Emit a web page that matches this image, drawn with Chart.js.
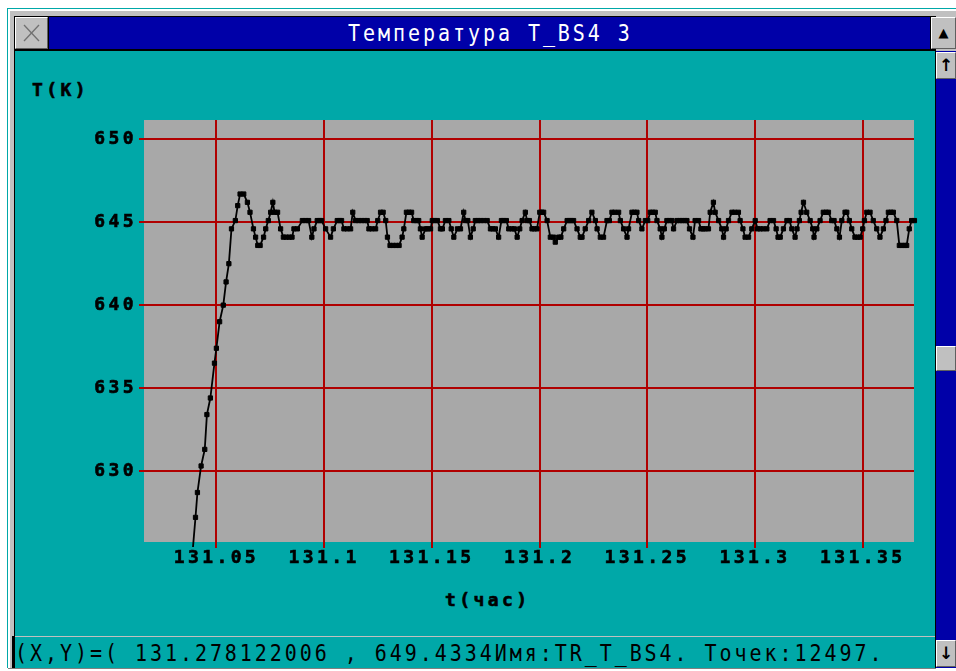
<!DOCTYPE html>
<html>
<head>
<meta charset="utf-8">
<script src="https://cdn.jsdelivr.net/npm/chart.js@4.4.1/dist/chart.umd.min.js"></script>
<style>
html,body{margin:0;padding:0;background:#fff;width:956px;height:671px;overflow:hidden;position:relative;}
.abs{position:absolute;}
.sysfont{font-family:"DejaVu Sans Mono",monospace;font-size:20px;letter-spacing:2.95px;white-space:pre;transform:scaleY(1.16);transform-origin:0 50%;line-height:24px;}
.boldfont{font-family:"DejaVu Sans Mono",monospace;font-weight:bold;font-size:18px;letter-spacing:3.4px;white-space:pre;line-height:20px;color:#000;-webkit-text-stroke:0.6px #000;}
.btn{background:#C0C0C0;border-top:1px solid #fff;border-left:1px solid #fff;border-right:1px solid #606060;border-bottom:1px solid #606060;box-sizing:border-box;text-align:center;font-family:"DejaVu Sans",sans-serif;color:#000;}
</style>
</head>
<body>
<!-- window chrome -->
<div class="abs" style="left:7px;top:8px;width:1px;height:663px;background:#00A8A8"></div>
<div class="abs" style="left:7px;top:8px;width:949px;height:1px;background:#00A8A8"></div>
<div class="abs" style="left:8px;top:9px;width:948px;height:662px;background:#C0C0C0"></div>
<div class="abs" style="left:8px;top:9px;width:948px;height:2px;background:#fff"></div>
<div class="abs" style="left:8px;top:9px;width:2px;height:662px;background:#fff"></div>
<div class="abs" style="left:14px;top:16px;width:922px;height:653px;background:#000"></div>
<!-- title bar -->
<div class="abs" style="left:49px;top:17px;width:881px;height:32px;background:#0000A8"></div>
<div class="abs sysfont" style="left:348px;top:21px;color:#fff">Температура T_BS4 3</div>
<div class="abs btn" style="left:15px;top:17px;width:33px;height:32px;">
  <svg width="31" height="30" style="position:absolute;left:0;top:0"><line x1="8" y1="7" x2="23" y2="23" stroke="#707070" stroke-width="1.3"/><line x1="23" y1="7" x2="8" y2="23" stroke="#707070" stroke-width="1.3"/></svg>
</div>
<div class="abs btn" style="left:931px;top:17px;width:25px;height:32px;font-size:13px;line-height:30px;">▲</div>
<!-- client area -->
<div class="abs" style="left:15px;top:51px;width:920px;height:617px;background:#00A8A8"></div>
<!-- scrollbar -->
<div class="abs" style="left:936px;top:51px;width:20px;height:617px;background:#0000A8"></div>
<div class="abs btn" style="left:936px;top:52px;width:20px;height:27px;font-size:17px;font-weight:bold;line-height:25px;">↑</div>
<div class="abs btn" style="left:936px;top:346px;width:20px;height:25px;"></div>
<div class="abs btn" style="left:936px;top:640px;width:20px;height:27px;font-size:17px;font-weight:bold;line-height:25px;">↓</div>
<!-- status line -->
<div class="abs" style="left:15px;top:636px;width:920px;height:1px;background:#C0C0C0"></div>
<div class="abs" style="left:12px;top:636px;width:2px;height:33px;background:#000"></div>
<div class="abs sysfont" style="left:15px;top:641px;color:#000">(X,Y)=( 131.278122006 , 649.4334Имя:TR_T_BS4. Точек:12497.</div>
<div class="abs" style="left:0;top:668px;width:956px;height:3px;background:#fff"></div>
<div class="abs" style="left:8px;top:668px;width:928px;height:1px;background:#808080"></div>
<!-- axis titles -->
<div class="abs boldfont" style="left:32px;top:80px">T(K)</div>
<div class="abs boldfont" style="left:445px;top:590px">t(час)</div>

<canvas id="c" width="956" height="671" style="position:absolute;left:0;top:0"></canvas>

<script>
// ---- data (time in hours, temperature in K) ----
const RISE_TIME = [131.0390,131.0403,131.0412,131.0429,131.0446,131.0456,131.0472,131.0491,131.0500,131.0515,131.0532,131.0545,131.0558,131.0570,131.0588,131.0599,131.0610,131.0627,131.0644,131.0656,131.0672,131.0682,131.0692,131.0703];
const RISE_TEMP = [625.2,627.2,628.7,630.3,631.3,633.4,634.4,636.5,637.4,639.0,640.0,641.4,642.5,644.6,645.1,646.0,646.7,646.7,646.2,645.6,644.6,644.1,643.6,643.6];

const SEG_A_TIME = [131.0719,131.0729,131.0741,131.0752,131.0762,131.0770,131.0784,131.0798,131.0811,131.0824,131.0838,131.0851,131.0860,131.0876,131.0899,131.0914,131.0928,131.0943,131.0953,131.0968,131.0979,131.0988,131.1007,131.1030,131.1043,131.1061,131.1072,131.1081,131.1092,131.1107,131.1123,131.1133,131.1146,131.1160,131.1174,131.1188,131.1200,131.1208,131.1222,131.1239,131.1249,131.1262,131.1274,131.1286,131.1294,131.1306,131.1320,131.1334,131.1348,131.1362,131.1370,131.1382,131.1394,131.1406,131.1416,131.1429,131.1439,131.1447,131.1455,131.1471,131.1480,131.1494];
const SEG_A_TEMP = [644.1,644.6,645.1,645.6,646.2,645.6,645.6,644.6,644.1,644.1,644.1,644.1,644.6,644.6,645.1,645.1,645.1,644.1,644.6,645.1,645.1,645.1,644.6,644.1,644.6,645.1,645.1,645.1,644.6,644.6,644.6,645.6,645.1,645.1,645.1,645.1,645.1,644.6,644.6,644.6,645.1,645.6,645.6,645.1,644.1,643.6,643.6,643.6,643.6,644.1,644.6,645.6,645.6,645.6,645.1,645.1,645.1,644.6,644.1,644.6,644.6,644.6];

const SEG_B_TIME = [131.1502,131.1512,131.1526,131.1540,131.1549,131.1563,131.1579,131.1590,131.1602,131.1619,131.1633,131.1648,131.1656,131.1667,131.1679,131.1692,131.1702,131.1714,131.1726,131.1741,131.1757,131.1772,131.1783,131.1795,131.1810,131.1823,131.1832,131.1846,131.1857,131.1872,131.1883,131.1896,131.1908,131.1919,131.1934,131.1942,131.1953,131.1965,131.1976,131.1988];
const SEG_B_TEMP = [645.1,645.1,645.1,644.6,644.6,645.1,645.1,644.6,644.1,644.6,644.6,645.6,645.1,645.1,644.1,644.6,645.1,645.1,645.1,645.1,645.1,644.6,644.6,644.6,644.1,645.1,645.1,645.1,644.6,644.6,644.6,644.1,644.6,645.1,645.6,645.1,645.1,644.6,644.6,644.6];

const SEG_C_TIME = [131.2001,131.2011,131.2019,131.2035,131.2050,131.2065,131.2073,131.2089,131.2099,131.2112,131.2128,131.2138,131.2147,131.2158,131.2174,131.2189,131.2197,131.2212,131.2228,131.2243,131.2259,131.2267,131.2282,131.2297,131.2313,131.2324,131.2336,131.2349,131.2367,131.2375,131.2390,131.2406,131.2413,131.2429,131.2440,131.2452,131.2460,131.2475,131.2491,131.2502];
const SEG_C_TEMP = [645.6,645.6,645.6,645.1,644.1,644.1,643.8,644.1,644.1,644.6,645.1,645.1,645.1,645.1,644.6,644.1,644.1,644.6,645.1,645.6,645.1,644.6,644.1,644.1,645.1,645.1,645.6,645.6,645.6,645.1,644.6,644.1,644.6,645.6,645.6,645.6,645.1,644.6,645.1,645.1];

const SEG_D_TIME = [131.2514,131.2525,131.2537,131.2545,131.2560,131.2568,131.2579,131.2591,131.2602,131.2614,131.2622,131.2638,131.2651,131.2662,131.2674,131.2684,131.2696,131.2712,131.2722,131.2738,131.2749,131.2760,131.2769,131.2784,131.2792,131.2807,131.2815,131.2831,131.2846,131.2854,131.2866,131.2877,131.2893,131.2906,131.2923,131.2931,131.2944,131.2954,131.2970,131.2985];
const SEG_D_TEMP = [645.6,645.6,645.6,645.1,644.6,644.1,644.6,645.1,645.1,645.1,644.6,645.1,645.1,645.1,645.1,645.1,644.6,644.1,645.1,645.1,644.6,644.6,644.6,644.6,645.6,646.2,645.6,645.1,644.6,644.1,644.6,645.1,645.6,645.6,645.6,645.1,644.6,644.1,644.1,644.6];

const SEG_E_TIME = [131.3001,131.3012,131.3024,131.3038,131.3055,131.3070,131.3086,131.3098,131.3107,131.3117,131.3132,131.3148,131.3160,131.3171,131.3186,131.3195,131.3206,131.3214,131.3225,131.3240,131.3256,131.3268,131.3274,131.3287,131.3302,131.3317,131.3330,131.3341,131.3356,131.3367,131.3380,131.3392,131.3403,131.3418,131.3426,131.3438,131.3449,131.3464,131.3476,131.3488,131.3500,131.3508,131.3519,131.3534,131.3549,131.3565,131.3580,131.3596,131.3608,131.3619,131.3631,131.3642,131.3658,131.3670,131.3682,131.3694,131.3704,131.3716,131.3727,131.3740,131.3752];
const SEG_E_TEMP = [645.1,644.6,644.6,644.6,644.6,645.1,645.1,644.6,644.1,644.1,644.6,645.1,645.1,644.6,644.1,644.6,645.1,645.6,646.2,645.6,645.1,644.6,644.1,644.6,645.1,645.6,645.6,645.6,645.1,645.1,644.6,644.1,645.1,645.6,645.6,645.1,644.6,644.1,644.1,644.1,644.6,645.1,645.6,645.6,645.1,644.6,644.1,644.6,645.1,645.6,645.6,645.6,645.1,643.6,643.6,643.6,643.6,644.6,645.1,645.1,645.1];

const X_TICKS = [131.05,131.10,131.15,131.20,131.25,131.30,131.35];
const X_TICK_LABELS = ['131.05','131.1','131.15','131.2','131.25','131.3','131.35'];
const Y_TICKS = [630,635,640,645,650];
const Y_TICK_LABELS = ['630','635','640','645','650'];
const X_RANGE = [131.0164, 131.3738];
const Y_RANGE = [625.715, 651.165];

// ---- styles ----
const PLOT_GRAY = '#A8A8A8';
const GRID_RED = '#B00000';
const TICK_FONT = {family:'"DejaVu Sans Mono", monospace', weight:'bold', size:18};

const times = [].concat(RISE_TIME, SEG_A_TIME, SEG_B_TIME, SEG_C_TIME, SEG_D_TIME, SEG_E_TIME);
const temps = [].concat(RISE_TEMP, SEG_A_TEMP, SEG_B_TEMP, SEG_C_TEMP, SEG_D_TEMP, SEG_E_TEMP);
const points = times.map((t, i) => ({x: t, y: temps[i]}));

const plotBg = {
  id: 'plotBg',
  beforeDraw(chart) {
    const {ctx, chartArea: a} = chart;
    ctx.save();
    ctx.fillStyle = PLOT_GRAY;
    ctx.fillRect(a.left, a.top, a.right - a.left, a.bottom - a.top);
    ctx.restore();
    ctx.letterSpacing = '3.4px';
  },
  afterDraw(chart) { chart.ctx.letterSpacing = '0px'; }
};

new Chart(document.getElementById('c'), {
  type: 'line',
  data: {
    datasets: [{
      data: points,
      borderColor: '#000',
      borderWidth: 1.8,
      tension: 0,
      pointStyle: 'rect',
      pointRadius: 3,
      pointBackgroundColor: '#000',
      pointBorderColor: '#000',
      pointBorderWidth: 1,
      clip: {left: 0, top: 0, right: 6, bottom: 5}
    }]
  },
  options: {
    responsive: false,
    animation: false,
    events: [],
    layout: {padding: {left: 0, top: 120, right: 42, bottom: 0}},
    plugins: {legend: {display: false}, tooltip: {enabled: false}, title: {display: false}},
    scales: {
      x: {
        type: 'linear',
        min: X_RANGE[0], max: X_RANGE[1],
        afterFit: s => { s.height = 129; },
        afterBuildTicks: s => { s.ticks = X_TICKS.map(v => ({value: v})); },
        border: {display: false},
        grid: {color: GRID_RED, lineWidth: 2, tickLength: 6, tickColor: GRID_RED, tickWidth: 2},
        ticks: {autoSkip: false, maxRotation: 0, color: '#000', font: TICK_FONT, padding: 0,
                textStrokeColor: '#000', textStrokeWidth: 0.6,
                callback: (v, i) => X_TICK_LABELS[i]}
      },
      y: {
        type: 'linear',
        min: Y_RANGE[0], max: Y_RANGE[1],
        afterFit: s => { s.width = 144; },
        afterBuildTicks: s => { s.ticks = Y_TICKS.map(v => ({value: v})); },
        border: {display: false},
        grid: {color: GRID_RED, lineWidth: 2, tickLength: 5, tickColor: GRID_RED, tickWidth: 2},
        ticks: {color: '#000', font: TICK_FONT, padding: 2,
                textStrokeColor: '#000', textStrokeWidth: 0.6,
                callback: (v, i) => Y_TICK_LABELS[i]}
      }
    }
  },
  plugins: [plotBg]
});
</script>
</body>
</html>
